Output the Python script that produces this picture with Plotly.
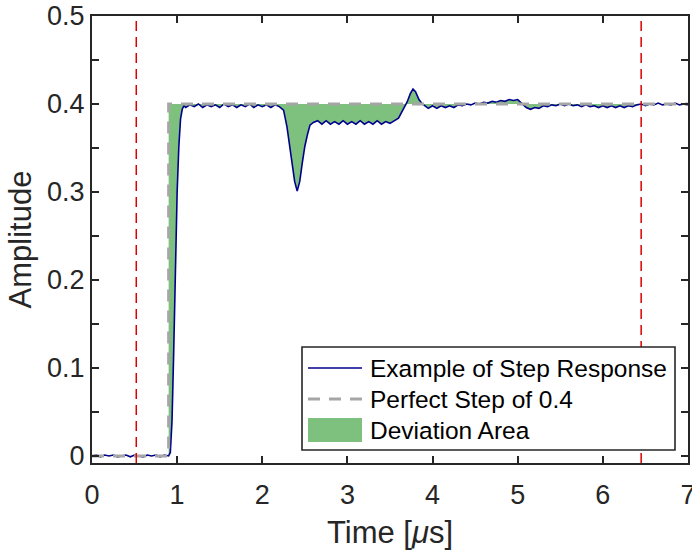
import plotly.graph_objects as go

# ---------------- data ----------------
time_us = [
    0.00, 0.05, 0.10, 0.15, 0.20, 0.25, 0.30, 0.35, 0.40, 0.45,
    0.50, 0.55, 0.60, 0.65, 0.70, 0.75, 0.80, 0.85, 0.90,
    0.92, 0.94, 0.96, 0.98, 1.00, 1.02, 1.04, 1.06, 1.08,
    1.10, 1.15, 1.20, 1.25, 1.30, 1.35, 1.40, 1.45, 1.50, 1.55,
    1.60, 1.65, 1.70, 1.75, 1.80, 1.85, 1.90, 1.95, 2.00, 2.05,
    2.10, 2.15, 2.20,
    2.25, 2.29, 2.32, 2.35, 2.38, 2.41, 2.44, 2.47, 2.50, 2.53, 2.56, 2.60,
    2.65, 2.70, 2.75, 2.80, 2.85, 2.90, 2.95, 3.00, 3.05, 3.10,
    3.15, 3.20, 3.25, 3.30, 3.35, 3.40, 3.45, 3.50, 3.55,
    3.60, 3.65, 3.70, 3.74, 3.77, 3.80, 3.84, 3.88, 3.92,
    3.95, 4.00, 4.05, 4.10, 4.15, 4.20, 4.25, 4.30, 4.35, 4.40,
    4.45, 4.50, 4.55, 4.60, 4.65, 4.70, 4.75, 4.80, 4.85, 4.90,
    4.95, 5.00, 5.05, 5.10, 5.15, 5.20, 5.25, 5.30, 5.35, 5.40,
    5.45, 5.50, 5.55, 5.60, 5.65, 5.70, 5.75, 5.80, 5.85, 5.90,
    5.95, 6.00, 6.05, 6.10, 6.15, 6.20, 6.25, 6.30, 6.35, 6.40,
    6.45, 6.50, 6.55, 6.60, 6.65, 6.70, 6.75, 6.80, 6.85, 6.90,
    6.95, 7.00,
]
response = [
    0.000, 0.001, -0.001, 0.001, 0.000, 0.001, -0.001, 0.000, 0.001, -0.001,
    0.001, 0.000, -0.001, 0.001, 0.000, 0.001, -0.001, 0.001, 0.000,
    0.004, 0.040, 0.120, 0.220, 0.300, 0.352, 0.383, 0.394, 0.398,
    0.396, 0.399, 0.397, 0.400, 0.396, 0.399, 0.397, 0.399, 0.396, 0.400,
    0.397, 0.399, 0.396, 0.399, 0.397, 0.400, 0.396, 0.399, 0.397, 0.399,
    0.396, 0.399, 0.397,
    0.393, 0.374, 0.352, 0.333, 0.312, 0.301, 0.312, 0.333, 0.352, 0.365, 0.376, 0.379,
    0.381, 0.377, 0.381, 0.377, 0.380, 0.377, 0.381, 0.377, 0.380, 0.377,
    0.381, 0.377, 0.380, 0.377, 0.381, 0.377, 0.380, 0.378, 0.381,
    0.384, 0.393, 0.402, 0.412, 0.417, 0.414, 0.405, 0.400, 0.397,
    0.395, 0.398, 0.395, 0.398, 0.396, 0.398, 0.396, 0.399, 0.398, 0.400,
    0.399, 0.401, 0.400, 0.402, 0.401, 0.403, 0.402, 0.404, 0.403, 0.405,
    0.404, 0.405, 0.401, 0.396, 0.394, 0.396, 0.395, 0.398, 0.397, 0.399,
    0.398, 0.400, 0.398, 0.400, 0.398, 0.399, 0.397, 0.399, 0.397, 0.398,
    0.396, 0.398, 0.396, 0.398, 0.396, 0.398, 0.396, 0.398, 0.397, 0.399,
    0.400, 0.398, 0.400, 0.399, 0.401, 0.399, 0.400, 0.399, 0.401, 0.399,
    0.400, 0.399,
]
step_time = [0.0, 0.9, 0.9, 7.0]
step_value = [0.0, 0.0, 0.4, 0.4]
window_marks = [0.52, 6.45]

x_ticks = [0, 1, 2, 3, 4, 5, 6, 7]
y_ticks = [0, 0.1, 0.2, 0.3, 0.4, 0.5]
y_tick_text = ["0", "0.1", "0.2", "0.3", "0.4", "0.5"]
legend_labels = ["Example of Step Response", "Perfect Step of 0.4", "Deviation Area"]

# ---------------- styles ----------------
AXIS_COLOR = "#262626"
FONT = "Liberation Sans, Arial, sans-serif"
RESP_COLOR = "rgb(0,0,139)"
STEP_COLOR = "rgb(166,166,166)"
FILL_COLOR = "rgb(126,193,126)"
MARK_COLOR = "rgb(220,0,0)"

W, H = 692, 552
ML, MR, MT, MB = 92, 4, 16, 89
PW, PH = W - ML - MR, H - MT - MB


def px(xp):
    return (xp - ML) / PW


def py(yp):
    return (H - MB - yp) / PH


fig = go.Figure()

# Deviation area polygon: response forward, perfect step backward
fig.add_trace(go.Scatter(
    x=time_us + step_time[::-1],
    y=response + step_value[::-1],
    fill="toself", fillcolor=FILL_COLOR, mode="none",
    name=legend_labels[2], hoverinfo="skip",
))
fig.add_trace(go.Scatter(
    x=time_us, y=response, mode="lines",
    line=dict(color=RESP_COLOR, width=1.6),
    name=legend_labels[0],
))
fig.add_trace(go.Scatter(
    x=step_time, y=step_value, mode="lines",
    line=dict(color=STEP_COLOR, width=3, dash="12px,9px"),
    name=legend_labels[1],
))

for xm in window_marks:
    fig.add_shape(
        type="line", xref="x", yref="paper",
        x0=xm, x1=xm, y0=0, y1=1,
        line=dict(color=MARK_COLOR, width=1.5, dash="10px,6px"),
        layer="above",
    )

# ---------------- legend (drawn manually, MATLAB style) ----------------
box = dict(x0=302, x1=675, y0=347, y1=450)
fig.add_shape(type="rect", xref="paper", yref="paper",
              x0=px(box["x0"]), x1=px(box["x1"]),
              y0=py(box["y1"]), y1=py(box["y0"]),
              line=dict(color=AXIS_COLOR, width=1.6), fillcolor="white",
              layer="above")
rows = [368, 399, 430]
sx0, sx1 = 308, 362
fig.add_shape(type="line", xref="paper", yref="paper",
              x0=px(sx0), x1=px(sx1), y0=py(rows[0]), y1=py(rows[0]),
              line=dict(color=RESP_COLOR, width=1.6), layer="above")
fig.add_shape(type="line", xref="paper", yref="paper",
              x0=px(sx0), x1=px(sx1), y0=py(rows[1]), y1=py(rows[1]),
              line=dict(color=STEP_COLOR, width=3, dash="12px,9px"), layer="above")
fig.add_shape(type="rect", xref="paper", yref="paper",
              x0=px(sx0), x1=px(sx1), y0=py(rows[2] + 12), y1=py(rows[2] - 12),
              line=dict(width=0), fillcolor=FILL_COLOR, layer="above")
for label, r in zip(legend_labels, rows):
    fig.add_annotation(text=label, xref="paper", yref="paper",
                       x=px(368), y=py(r), xanchor="left", yanchor="middle",
                       showarrow=False, font=dict(family=FONT, size=24.5, color="black"))

fig.update_layout(
    width=W, height=H,
    margin=dict(l=ML, r=MR, t=MT, b=MB, autoexpand=False),
    paper_bgcolor="white", plot_bgcolor="white",
    font=dict(family=FONT, color=AXIS_COLOR, size=27),
    showlegend=False,
    xaxis=dict(
        range=[0, 7], tickvals=x_ticks, ticktext=[str(v) for v in x_ticks],
        showline=True, linecolor=AXIS_COLOR, linewidth=2, mirror="ticks",
        ticks="inside", ticklen=7, tickwidth=1.5, tickcolor=AXIS_COLOR,
        showgrid=False, zeroline=False, ticklabeloverflow="allow",
        ticklabelstandoff=7,
        title=dict(text="Time [<i>μ</i>s]", font=dict(size=31), standoff=12),
        tickfont=dict(size=27),
    ),
    yaxis=dict(
        range=[-0.008, 0.5], tickvals=y_ticks, ticktext=y_tick_text,
        showline=True, linecolor=AXIS_COLOR, linewidth=2, mirror="ticks",
        ticks="inside", ticklen=7, tickwidth=1.5, tickcolor=AXIS_COLOR,
        minor=dict(tickvals=[0.05, 0.15, 0.25, 0.35, 0.45], ticks="inside",
                   ticklen=7, tickwidth=1.5, tickcolor=AXIS_COLOR),
        showgrid=False, zeroline=False, ticklabeloverflow="allow",
        title=dict(text="Amplitude", font=dict(size=31), standoff=6),
        tickfont=dict(size=27),
    ),
)

fig.write_html("out.html")
